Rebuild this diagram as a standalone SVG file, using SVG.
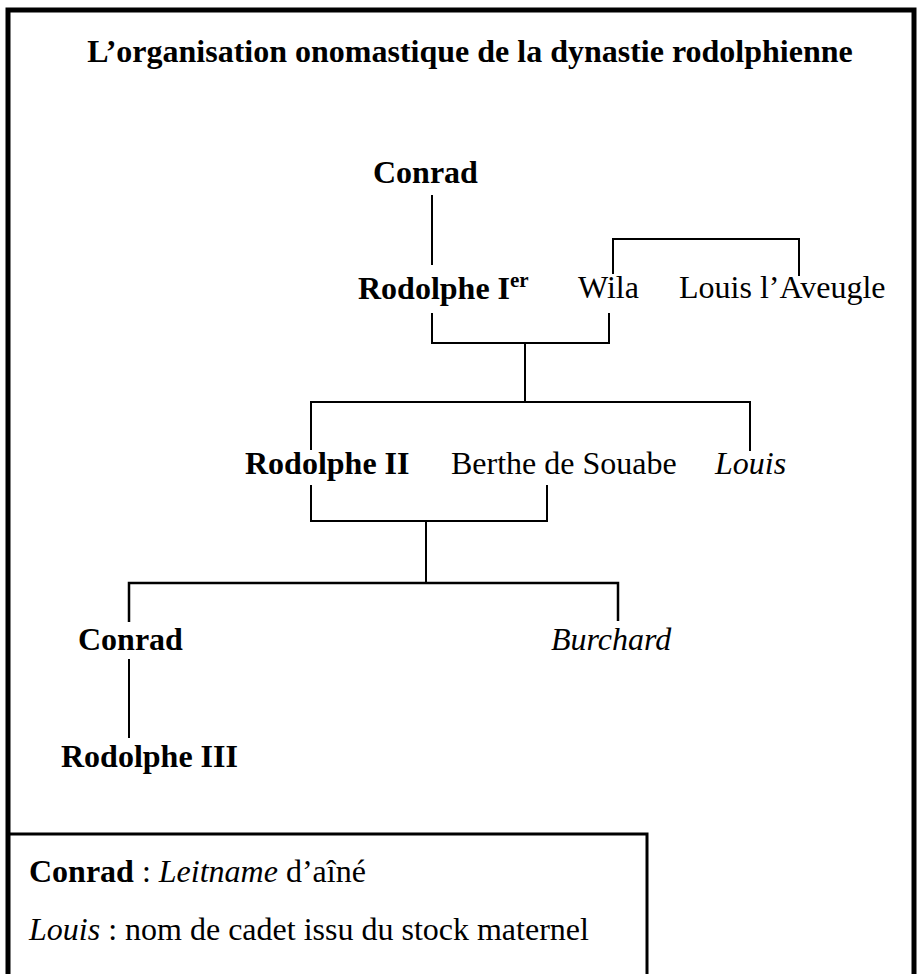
<svg xmlns="http://www.w3.org/2000/svg" width="920" height="974" viewBox="0 0 920 974">
<style>
text{font-family:"Liberation Serif","Times New Roman",serif;font-size:32px;fill:#000}
.b{font-weight:bold}
.i{font-style:italic}
.sup{font-size:21px;font-weight:bold}
.c line,.c polyline{stroke:#000;stroke-width:2;fill:none}
</style>
<rect x="0" y="0" width="920" height="974" fill="#fff"/>
<rect id="frame" x="8" y="10" width="906" height="990" fill="none" stroke="#000" stroke-width="5"/>
<text id="title" class="b" x="470" y="62" text-anchor="middle">L’organisation onomastique de la dynastie rodolphienne</text>
<g class="c" id="connectors">
<line x1="432" y1="195" x2="432" y2="265"/>
<polyline points="613,274 613,239 799,239 799,276"/>
<polyline points="432,313 432,343 609,343 609,313"/>
<line x1="525" y1="343" x2="525" y2="402"/>
<polyline points="311,450 311,402 750,402 750,451"/>
<polyline points="311,485 311,521 547,521 547,485"/>
<line x1="426" y1="521" x2="426" y2="583"/>
<polyline points="129,622 129,583 618,583 618,621" style="stroke-width:2.5"/>
<line x1="129" y1="659" x2="129" y2="738"/>
</g>
<g id="conrad1"><text class="b" x="373" y="183">Conrad</text></g>
<g id="rodolphe1"><text class="b" x="358" y="299">Rodolphe I<tspan class="sup" dy="-12">er</tspan></text></g>
<g id="wila"><text x="578" y="298">Wila</text></g>
<g id="louis-aveugle"><text x="679" y="298">Louis l’Aveugle</text></g>
<g id="rodolphe2"><text class="b" x="245" y="474">Rodolphe II</text></g>
<g id="berthe"><text x="451" y="474">Berthe de Souabe</text></g>
<g id="louis"><text class="i" x="715" y="474">Louis</text></g>
<g id="conrad2"><text class="b" x="78" y="650">Conrad</text></g>
<g id="burchard"><text class="i" x="551" y="650">Burchard</text></g>
<g id="rodolphe3"><text class="b" x="61" y="767">Rodolphe III</text></g>
<g id="legend">
<rect x="8" y="834" width="639" height="200" fill="none" stroke="#000" stroke-width="3"/>
<text x="29" y="882"><tspan class="b">Conrad</tspan> : <tspan class="i">Leitname</tspan> d’aîné</text>
<text x="29" y="940"><tspan class="i">Louis</tspan> : nom de cadet issu du stock maternel</text>
</g>
</svg>
